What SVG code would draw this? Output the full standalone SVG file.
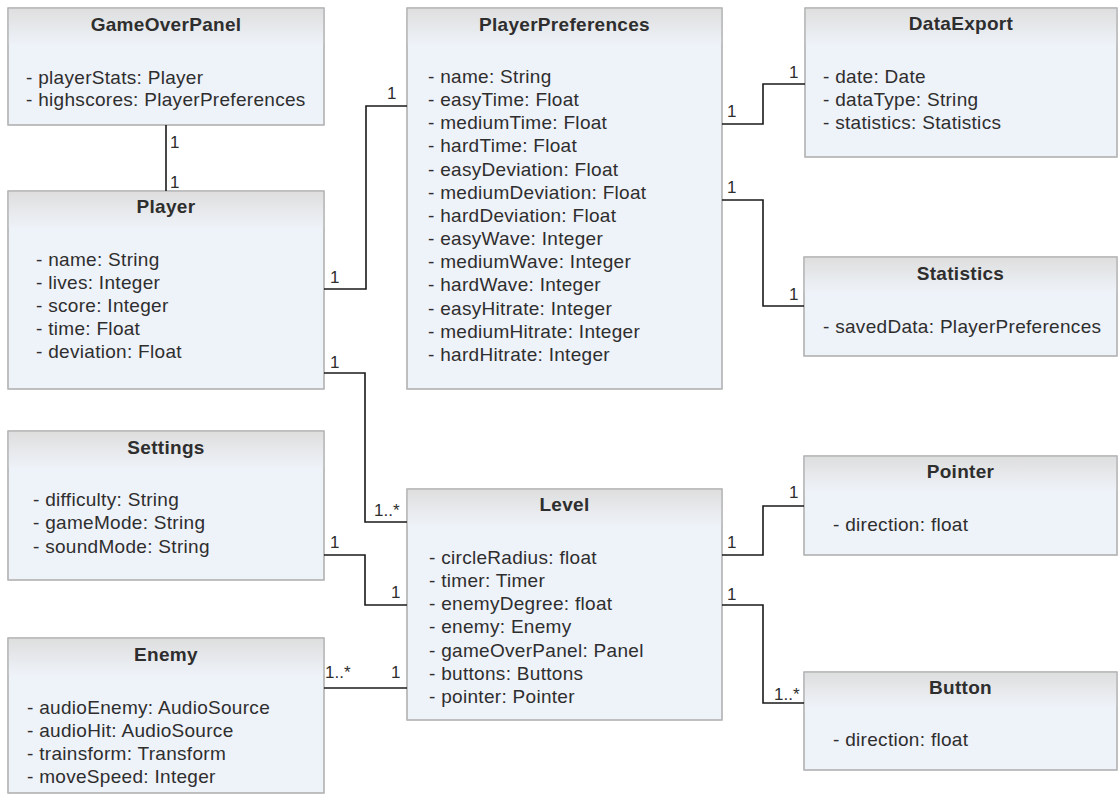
<svg xmlns="http://www.w3.org/2000/svg" width="1120" height="802" viewBox="0 0 1120 802">
<defs>
<linearGradient id="hdr" x1="0" y1="0" x2="0" y2="1">
<stop offset="0" stop-color="#dedede"/>
<stop offset="1" stop-color="#eef2f8"/>
</linearGradient>
<style>
.box{fill:#eef2f9;stroke:#b4b4b4;stroke-width:1.2}
.frame{fill:none;stroke:#b4b4b4;stroke-width:1.2}
.hd{fill:url(#hdr)}
.t{font-family:"Liberation Sans",Arial,sans-serif;font-size:19px;fill:#2e2e2e;letter-spacing:0.3px}
.ti{font-weight:bold;text-anchor:middle}
.lbl{font-family:"Liberation Sans",Arial,sans-serif;font-size:17px;fill:#2e2e2e}
.con{fill:none;stroke:#1a1a1a;stroke-width:1.6}
</style>
</defs>
<rect width="1120" height="802" fill="#ffffff"/>

<g id="GameOverPanel">
<rect class="box" x="8" y="8" width="316" height="117"/>
<rect class="hd" x="8.6" y="8.6" width="314.8" height="36"/>
<rect class="frame" x="8" y="8" width="316" height="117"/>
<text class="t ti" x="166" y="31">GameOverPanel</text>
<text class="t" x="26" y="84">- playerStats: Player</text>
<text class="t" x="26" y="106">- highscores: PlayerPreferences</text>
</g>

<g id="Player">
<rect class="box" x="8" y="191" width="316" height="198"/>
<rect class="hd" x="8.6" y="191.6" width="314.8" height="36"/>
<rect class="frame" x="8" y="191" width="316" height="198"/>
<text class="t ti" x="166" y="213">Player</text>
<text class="t" x="36" y="266">- name: String</text>
<text class="t" x="36" y="289">- lives: Integer</text>
<text class="t" x="36" y="312">- score: Integer</text>
<text class="t" x="36" y="335">- time: Float</text>
<text class="t" x="36" y="358">- deviation: Float</text>
</g>

<g id="PlayerPreferences">
<rect class="box" x="407" y="8" width="315" height="381"/>
<rect class="hd" x="407.6" y="8.6" width="313.8" height="36"/>
<rect class="frame" x="407" y="8" width="315" height="381"/>
<text class="t ti" x="564.5" y="31">PlayerPreferences</text>
<text class="t" x="428" y="83">- name: String</text>
<text class="t" x="428" y="106">- easyTime: Float</text>
<text class="t" x="428" y="129">- mediumTime: Float</text>
<text class="t" x="428" y="152">- hardTime: Float</text>
<text class="t" x="428" y="175.5">- easyDeviation: Float</text>
<text class="t" x="428" y="198.5">- mediumDeviation: Float</text>
<text class="t" x="428" y="221.5">- hardDeviation: Float</text>
<text class="t" x="428" y="245">- easyWave: Integer</text>
<text class="t" x="428" y="268">- mediumWave: Integer</text>
<text class="t" x="428" y="291">- hardWave: Integer</text>
<text class="t" x="428" y="314.5">- easyHitrate: Integer</text>
<text class="t" x="428" y="337.5">- mediumHitrate: Integer</text>
<text class="t" x="428" y="360.5">- hardHitrate: Integer</text>
</g>

<g id="DataExport">
<rect class="box" x="805" y="8" width="312" height="149"/>
<rect class="hd" x="805.6" y="8.6" width="310.8" height="36"/>
<rect class="frame" x="805" y="8" width="312" height="149"/>
<text class="t ti" x="961" y="30">DataExport</text>
<text class="t" x="823" y="83">- date: Date</text>
<text class="t" x="823" y="106">- dataType: String</text>
<text class="t" x="823" y="129">- statistics: Statistics</text>
</g>

<g id="Statistics">
<rect class="box" x="804" y="257" width="313" height="99"/>
<rect class="hd" x="804.6" y="257.6" width="311.8" height="34"/>
<rect class="frame" x="804" y="257" width="313" height="99"/>
<text class="t ti" x="960.5" y="280">Statistics</text>
<text class="t" x="823" y="333">- savedData: PlayerPreferences</text>
</g>

<g id="Settings">
<rect class="box" x="8" y="431" width="316" height="149"/>
<rect class="hd" x="8.6" y="431.6" width="314.8" height="36"/>
<rect class="frame" x="8" y="431" width="316" height="149"/>
<text class="t ti" x="166" y="454">Settings</text>
<text class="t" x="33" y="506">- difficulty: String</text>
<text class="t" x="33" y="529">- gameMode: String</text>
<text class="t" x="33" y="553">- soundMode: String</text>
</g>

<g id="Enemy">
<rect class="box" x="8" y="638" width="316" height="155"/>
<rect class="hd" x="8.6" y="638.6" width="314.8" height="36"/>
<rect class="frame" x="8" y="638" width="316" height="155"/>
<text class="t ti" x="166" y="661">Enemy</text>
<text class="t" x="27" y="714">- audioEnemy: AudioSource</text>
<text class="t" x="27" y="737">- audioHit: AudioSource</text>
<text class="t" x="27" y="760">- trainsform: Transform</text>
<text class="t" x="27" y="783">- moveSpeed: Integer</text>
</g>

<g id="Level">
<rect class="box" x="407" y="489" width="315" height="231"/>
<rect class="hd" x="407.6" y="489.6" width="313.8" height="36"/>
<rect class="frame" x="407" y="489" width="315" height="231"/>
<text class="t ti" x="564.5" y="511">Level</text>
<text class="t" x="429" y="564">- circleRadius: float</text>
<text class="t" x="429" y="587">- timer: Timer</text>
<text class="t" x="429" y="610">- enemyDegree: float</text>
<text class="t" x="429" y="633">- enemy: Enemy</text>
<text class="t" x="429" y="657">- gameOverPanel: Panel</text>
<text class="t" x="429" y="680">- buttons: Buttons</text>
<text class="t" x="429" y="703">- pointer: Pointer</text>
</g>

<g id="Pointer">
<rect class="box" x="804" y="456" width="313" height="99"/>
<rect class="hd" x="804.6" y="456.6" width="311.8" height="34"/>
<rect class="frame" x="804" y="456" width="313" height="99"/>
<text class="t ti" x="960.5" y="478">Pointer</text>
<text class="t" x="833" y="531">- direction: float</text>
</g>

<g id="Button">
<rect class="box" x="804" y="672" width="313" height="98"/>
<rect class="hd" x="804.6" y="672.6" width="311.8" height="34"/>
<rect class="frame" x="804" y="672" width="313" height="98"/>
<text class="t ti" x="960.5" y="694">Button</text>
<text class="t" x="833" y="746">- direction: float</text>
</g>

<g id="connectors">
<path class="con" d="M166,125 V191"/>
<path class="con" d="M324,289 H366 V106 H407"/>
<path class="con" d="M722,124 H763 V84 H805"/>
<path class="con" d="M722,200 H763 V306 H804"/>
<path class="con" d="M324,373 H365 V522 H407"/>
<path class="con" d="M324,555 H365 V605 H407"/>
<path class="con" d="M324,688 H407"/>
<path class="con" d="M722,555 H763 V506 H804"/>
<path class="con" d="M722,605 H763 V703 H804"/>
<text class="lbl" x="170" y="148">1</text>
<text class="lbl" x="170" y="188">1</text>
<text class="lbl" x="387" y="99">1</text>
<text class="lbl" x="330" y="283">1</text>
<text class="lbl" x="727" y="117">1</text>
<text class="lbl" x="789" y="78">1</text>
<text class="lbl" x="727" y="193">1</text>
<text class="lbl" x="789" y="300">1</text>
<text class="lbl" x="330" y="368">1</text>
<text class="lbl" x="374" y="516">1..*</text>
<text class="lbl" x="330" y="548">1</text>
<text class="lbl" x="391" y="598">1</text>
<text class="lbl" x="325" y="678">1..*</text>
<text class="lbl" x="391" y="678">1</text>
<text class="lbl" x="727" y="548">1</text>
<text class="lbl" x="789" y="498">1</text>
<text class="lbl" x="727" y="600">1</text>
<text class="lbl" x="774" y="700">1..*</text>
</g>
</svg>
